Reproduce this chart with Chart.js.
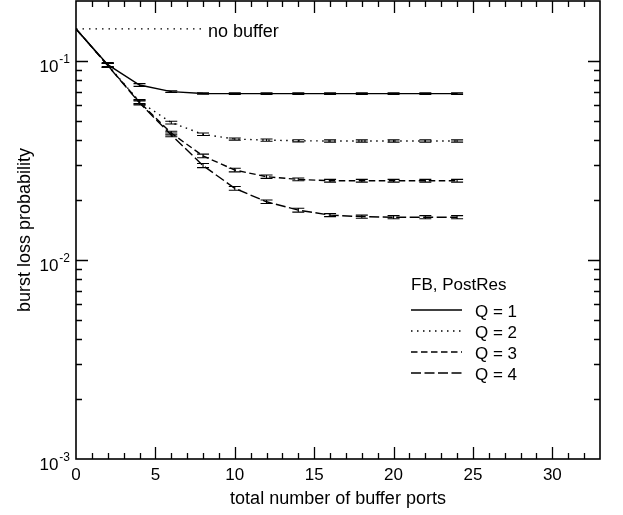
<!DOCTYPE html>
<html>
<head>
<meta charset="utf-8">
<script src="https://cdn.jsdelivr.net/npm/chart.js@4/dist/chart.umd.min.js"></script>
<style>
  html, body { margin: 0; padding: 0; background: #fff; }
  canvas { display: block; }
</style>
</head>
<body>
<canvas id="lossChart" width="623" height="515"></canvas>
<script>
// Buffer ports (x) and burst loss probability per Q
const ports = [0, 2, 4, 6, 8, 10, 12, 14, 16, 18, 20, 22, 24];
const lossQ1 = [0.1449, 0.0958, 0.0757, 0.0701, 0.0686, 0.0685, 0.0685, 0.0685, 0.0685, 0.0685, 0.0685, 0.0685, 0.0685];
const lossQ2 = [0.1449, 0.0952, 0.0625, 0.0490, 0.0428, 0.0405, 0.0400, 0.0397, 0.0396, 0.0396, 0.0396, 0.0396, 0.0396];
const lossQ3 = [0.1449, 0.0950, 0.0620, 0.0434, 0.0333, 0.0283, 0.0262, 0.0254, 0.0250, 0.0250, 0.0250, 0.0250, 0.0250];
const lossQ4 = [0.1449, 0.0948, 0.0615, 0.0425, 0.0298, 0.0229, 0.0196, 0.0178, 0.0168, 0.0165, 0.0164, 0.0164, 0.0164];

// Confidence half-widths
const errQ1 = [0, 0.0022, 0.0012, 0.0007, 0.0006, 0.0006, 0.0006, 0.0006, 0.0006, 0.0006, 0.0006, 0.0006, 0.0006];
const errQ2 = [0, 0.0022, 0.0014, 0.0008, 0.0006, 0.0005, 0.0005, 0.0005, 0.0005, 0.0005, 0.0005, 0.0005, 0.0005];
const errQ3 = [0, 0.0022, 0.0014, 0.0009, 0.0007, 0.0006, 0.0005, 0.0004, 0.0004, 0.0004, 0.0004, 0.0004, 0.0004];
const errQ4 = [0, 0.0022, 0.0014, 0.0009, 0.0007, 0.0005, 0.0004, 0.0004, 0.0003, 0.0003, 0.0003, 0.0003, 0.0003];

// Reference level without any buffer
const noBufferPorts = [0, 8];
const noBufferLoss = 0.1449;

// Axis ticks
const xMajorTicks = [0, 5, 10, 15, 20, 25, 30];
const yDecades = [0.001, 0.01, 0.1];
const yExponents = ['-3', '-2', '-1'];

const seriesNames = ['Q = 1', 'Q = 2', 'Q = 3', 'Q = 4'];
const seriesLoss = [lossQ1, lossQ2, lossQ3, lossQ4];
const seriesErr = [errQ1, errQ2, errQ3, errQ4];
const seriesDash = [[], [1.5, 4.5], [6.5, 3.5], [10, 3.5]];

const FONT = '"Liberation Sans", Arial, Helvetica, sans-serif';

const datasets = seriesLoss.map((vals, i) => ({
  label: seriesNames[i],
  data: ports.map((p, j) => ({ x: p, y: vals[j] })),
  errors: seriesErr[i],
  borderColor: '#000',
  borderWidth: 1.4,
  borderDash: seriesDash[i],
  pointRadius: 0,
  tension: 0,
  fill: false
}));

datasets.push({
  label: 'no buffer',
  data: noBufferPorts.map(p => ({ x: p, y: noBufferLoss })),
  borderColor: '#000',
  borderWidth: 1.4,
  borderDash: [1.5, 5],
  pointRadius: 0,
  fill: false
});

// Error bars with horizontal caps
const errorBars = {
  id: 'errorBars',
  afterDatasetsDraw(chart) {
    const { ctx, scales: { x, y } } = chart;
    ctx.save();
    ctx.strokeStyle = '#000';
    ctx.lineWidth = 1.1;
    chart.data.datasets.forEach(ds => {
      if (!ds.errors) return;
      ds.data.forEach((pt, j) => {
        const e = ds.errors[j];
        if (!e) return;
        const px = x.getPixelForValue(pt.x);
        const yHi = y.getPixelForValue(pt.y + e);
        const yLo = y.getPixelForValue(pt.y - e);
        ctx.beginPath();
        ctx.moveTo(px, yHi); ctx.lineTo(px, yLo);
        ctx.moveTo(px - 6, yHi); ctx.lineTo(px + 6, yHi);
        ctx.moveTo(px - 6, yLo); ctx.lineTo(px + 6, yLo);
        ctx.stroke();
      });
    });
    ctx.restore();
  }
};

// Frame, inward ticks on all sides, labels, titles and the legend box
const frameAndText = {
  id: 'frameAndText',
  afterDraw(chart) {
    const { ctx, chartArea: a, scales: { x, y } } = chart;
    ctx.save();
    ctx.strokeStyle = '#000';
    ctx.fillStyle = '#000';

    ctx.lineWidth = 1.6;
    ctx.strokeRect(a.left, a.top, a.right - a.left, a.bottom - a.top);

    ctx.lineWidth = 1.3;
    ctx.beginPath();
    for (let v = 1; v < x.max; v++) {
      const px = Math.round(x.getPixelForValue(v)) + 0.5;
      const len = v % 5 === 0 ? 12 : 6;
      ctx.moveTo(px, a.bottom); ctx.lineTo(px, a.bottom - len);
      ctx.moveTo(px, a.top); ctx.lineTo(px, a.top + len);
    }
    yDecades.forEach(d => {
      for (let m = 1; m <= 9; m++) {
        const v = d * m;
        if (v <= y.min || v >= y.max) continue;
        const py = Math.round(y.getPixelForValue(v)) + 0.5;
        const len = m === 1 ? 12 : 6;
        ctx.moveTo(a.left, py); ctx.lineTo(a.left + len, py);
        ctx.moveTo(a.right, py); ctx.lineTo(a.right - len, py);
      }
    });
    ctx.stroke();

    // x tick labels
    ctx.font = '17px ' + FONT;
    ctx.textAlign = 'center';
    ctx.textBaseline = 'alphabetic';
    xMajorTicks.forEach(v => {
      ctx.fillText(String(v), x.getPixelForValue(v), a.bottom + 21);
    });

    // y tick labels as powers of ten
    yDecades.forEach((d, i) => {
      const py = y.getPixelForValue(d);
      ctx.font = '12px ' + FONT;
      ctx.textAlign = 'right';
      const expW = ctx.measureText(yExponents[i]).width;
      const right = a.left - 6;
      ctx.fillText(yExponents[i], right, py + 2);
      ctx.font = '17px ' + FONT;
      ctx.fillText('10', right - expW - 1, py + 11);
    });

    // axis titles
    ctx.font = '18px ' + FONT;
    ctx.textAlign = 'center';
    ctx.fillText('total number of buffer ports', (a.left + a.right) / 2, 504);
    ctx.save();
    ctx.translate(30, (a.top + a.bottom) / 2);
    ctx.rotate(-Math.PI / 2);
    ctx.fillText('burst loss probability', 0, 0);
    ctx.restore();

    // label at the end of the no-buffer line
    ctx.textAlign = 'left';
    ctx.fillText('no buffer', x.getPixelForValue(noBufferPorts[1]) + 5, y.getPixelForValue(noBufferLoss) + 8);

    // legend
    const lx = 411, lw = 51;
    ctx.font = '17px ' + FONT;
    ctx.fillText('FB, PostRes', lx, 290);
    ctx.lineWidth = 1.4;
    seriesNames.forEach((name, i) => {
      const ly = 310 + i * 21;
      ctx.setLineDash(seriesDash[i]);
      ctx.beginPath();
      ctx.moveTo(lx, ly); ctx.lineTo(lx + lw, ly);
      ctx.stroke();
      ctx.setLineDash([]);
      ctx.fillText(name, 475, ly + 7);
    });
    ctx.restore();
  }
};

new Chart(document.getElementById('lossChart'), {
  type: 'line',
  data: { datasets },
  options: {
    responsive: false,
    animation: false,
    devicePixelRatio: 1,
    layout: { padding: { left: 76, right: 23, top: 1, bottom: 56 } },
    plugins: { legend: { display: false }, tooltip: { enabled: false } },
    scales: {
      x: { type: 'linear', min: 0, max: 33, display: false },
      y: { type: 'logarithmic', min: 0.001, max: 0.2, display: false }
    }
  },
  plugins: [errorBars, frameAndText]
});
</script>
</body>
</html>
